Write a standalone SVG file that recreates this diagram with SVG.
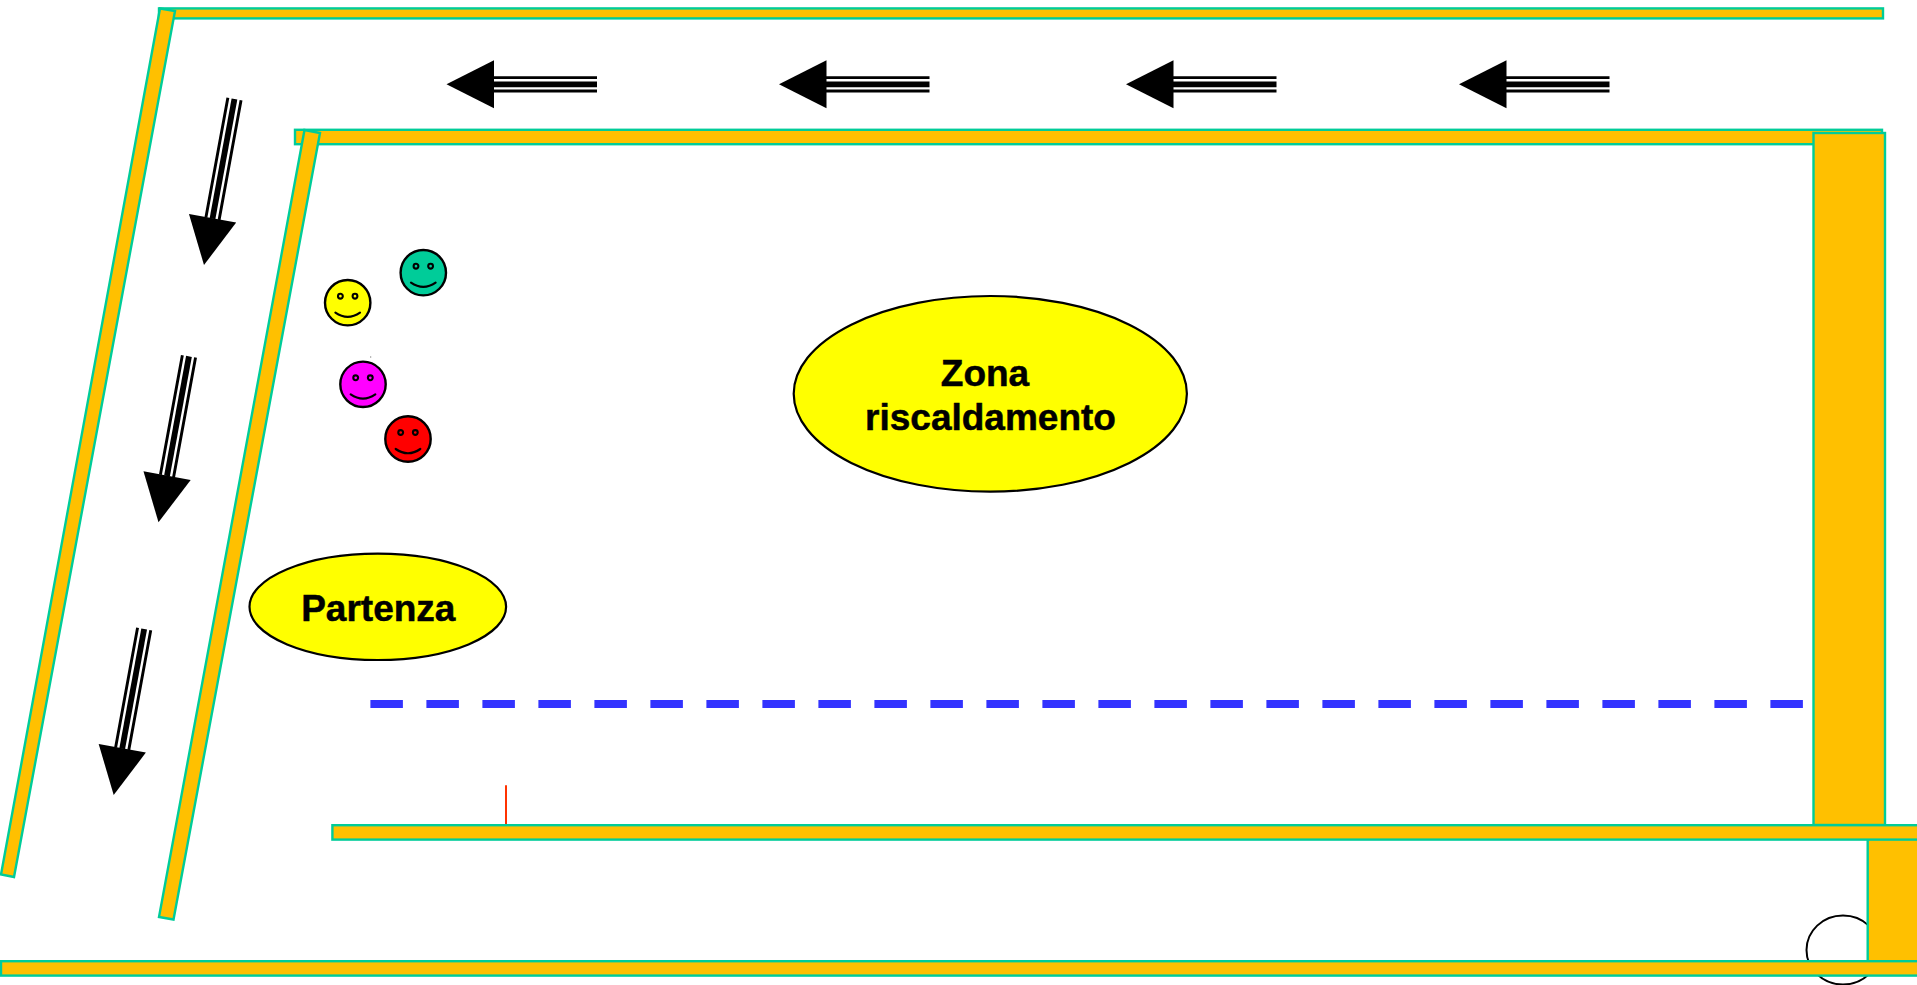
<svg xmlns="http://www.w3.org/2000/svg" width="1917" height="985" viewBox="0 0 1917 985">
<style>
.wall{fill:#FFC000;stroke:#00CC99;stroke-width:2.4}
.face{stroke:#000;stroke-width:2.4}
.eye{fill:none;stroke:#000;stroke-width:2.1}
.smile{fill:none;stroke:#000;stroke-width:2.2;stroke-linecap:round}
.oval{fill:#FFFF00;stroke:#000;stroke-width:2.2}
.lbl{font-family:"Liberation Sans",Arial,sans-serif;font-weight:bold;font-size:37px;fill:#000;stroke:#000;stroke-width:.5;text-anchor:middle}
.thin{stroke:#000;fill:none;stroke-width:2.9}
.thick{stroke:#000;fill:none;stroke-width:5.8}
</style>
<defs>
<g id="head"><polygon points="0,0 47.5,-24 47.5,24" fill="#000"/></g>
<g id="eyes"><circle class="eye" cx="-7.3" cy="-6.5" r="2.4"/><circle class="eye" cx="7.3" cy="-6.5" r="2.4"/><path class="smile" d="M-12.3,10 Q0,18.5 12.3,10"/></g>
<g id="arrow-h"><use href="#head"/><path class="thin" d="M47,-6.7H150.5M47,6.7H150.5"/><path class="thick" d="M47,0H150.5"/></g>
<g id="arrow-s"><use href="#head"/><path class="thin" d="M47,-6.7H168.7M47,6.7H168.7"/><path class="thick" d="M47,0H168.7"/></g>
</defs>
<rect width="1917" height="985" fill="#fff"/>
<g id="wall-top"><rect class="wall" x="159" y="8.4" width="1724" height="10"/></g>
<g id="wall-second"><rect class="wall" x="295" y="129.8" width="1587" height="14.4"/></g>
<g id="wall-slant-left"><polygon class="wall" points="160,8.5 175,11 14,877 1,874.5"/></g>
<g id="wall-slant-right"><polygon class="wall" points="304.5,130 320,133 173.5,919.5 159,917"/></g>
<g id="wall-right"><rect class="wall" x="1813.5" y="133" width="71.5" height="692"/></g>
<g id="circle-corner"><ellipse cx="1843" cy="950" rx="36.5" ry="34.5" fill="#fff" stroke="#000" stroke-width="2"/></g>
<g id="wall-corner"><rect class="wall" x="1867.7" y="835" width="60" height="130"/></g>
<g id="wall-lower"><rect class="wall" x="332.4" y="825.2" width="1600" height="14.4"/></g>
<g id="wall-bottom"><rect class="wall" x="1" y="961.2" width="1930" height="14.4"/></g>
<g id="connectors">
<line id="dashed" x1="370.4" y1="704" x2="1803" y2="704" stroke="#3333FF" stroke-width="8" stroke-dasharray="32.5 23.5"/>
<line id="red-mark" x1="506" y1="785.3" x2="506" y2="824" stroke="#FF3300" stroke-width="2"/>
<use id="arrow-h1" href="#arrow-h" transform="translate(446.5,84.3)"/>
<use id="arrow-h2" href="#arrow-h" transform="translate(779,84.3)"/>
<use id="arrow-h3" href="#arrow-h" transform="translate(1126,84.3)"/>
<use id="arrow-h4" href="#arrow-h" transform="translate(1459,84.3)"/>
<use id="arrow-s1" href="#arrow-s" transform="translate(204,265) rotate(-79.6)"/>
<use id="arrow-s2" href="#arrow-s" transform="translate(158.5,522.3) rotate(-79.6)"/>
<use id="arrow-s3" href="#arrow-s" transform="translate(113.7,795) rotate(-79.6)"/>
</g>
<g id="smiley-yellow" transform="translate(347.7,302.7)"><circle class="face" r="22.7" fill="#FFFF00"/><use href="#eyes"/></g>
<g id="smiley-green" transform="translate(423.3,272.7)"><circle class="face" r="22.7" fill="#00CC99"/><use href="#eyes"/></g>
<g id="smiley-magenta" transform="translate(363,384.3)"><circle class="face" r="22.7" fill="#FF00FF"/><use href="#eyes"/></g>
<g id="smiley-red" transform="translate(408,439)"><circle class="face" r="22.7" fill="#FF0000"/><use href="#eyes"/></g>
<g id="speck"><rect x="370.2" y="356.5" width="1" height="1" fill="#555"/></g>
<g id="zone-heating"><ellipse class="oval" cx="990.3" cy="393.8" rx="196.6" ry="97.8"/><text class="lbl" x="985" y="386">Zona</text><text class="lbl" x="990.5" y="430">riscaldamento</text></g>
<g id="zone-start"><ellipse class="oval" cx="377.8" cy="606.8" rx="128.3" ry="53.2"/><text class="lbl" x="378.3" y="621">Partenza</text></g>
</svg>
